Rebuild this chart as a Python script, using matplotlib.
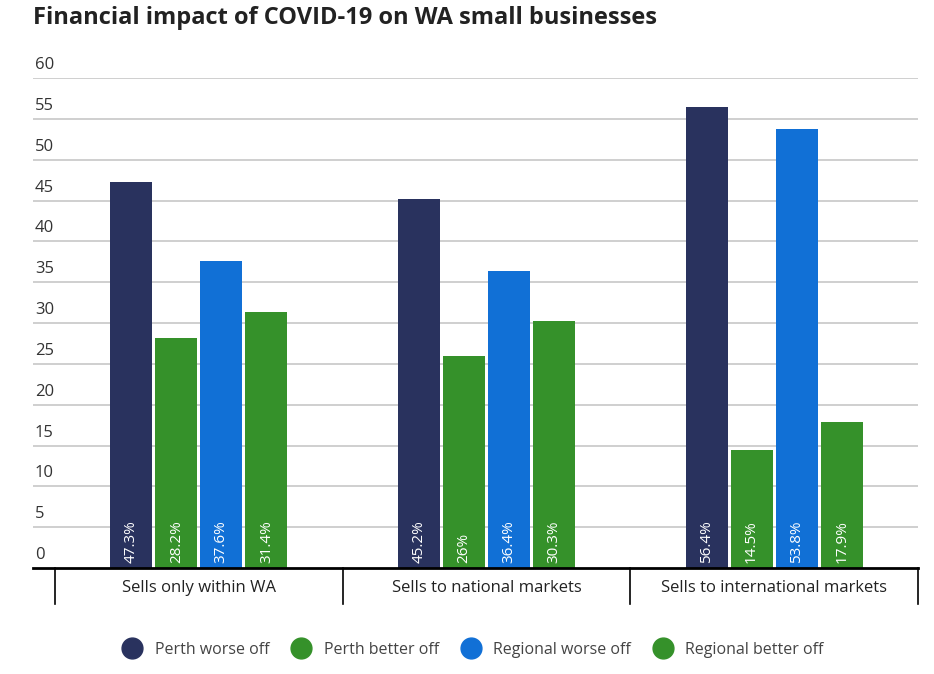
import numpy as np
import matplotlib.pyplot as plt
from matplotlib.lines import Line2D
from matplotlib.transforms import blended_transform_factory

categories = ["Sells only within WA", "Sells to national markets", "Sells to international markets"]
series = ["Perth worse off", "Perth better off", "Regional worse off", "Regional better off"]
perth_worse = [47.3, 45.2, 56.4]
perth_better = [28.2, 26, 14.5]
regional_worse = [37.6, 36.4, 53.8]
regional_better = [31.4, 30.3, 17.9]
labels = [["47.3%", "45.2%", "56.4%"],
          ["28.2%", "26%", "14.5%"],
          ["37.6%", "36.4%", "53.8%"],
          ["31.4%", "30.3%", "17.9%"]]
colors = ["#29325e", "#35912a", "#1170d6", "#35912a"]
yticks = [0, 5, 10, 15, 20, 25, 30, 35, 40, 45, 50, 55, 60]

plt.rcParams['font.family'] = ['Open Sans', 'DejaVu Sans']

fig = plt.figure(figsize=(9.34, 6.74), dpi=100)
ax = fig.add_axes([33/934, 1-568/674, (918-33)/934, (568-78)/674])

x = np.arange(len(categories))
step = 45/287.5
width = 42/287.5
for i, vals in enumerate([perth_worse, perth_better, regional_worse, regional_better]):
    pos = x + (i - 1.5) * step
    ax.bar(pos, vals, width=width, color=colors[i], zorder=3)
    for p, lab in zip(pos, labels[i]):
        ax.text(p, 0.6, lab, rotation=90, ha='center', va='bottom',
                color='white', fontsize=11, zorder=4)

ax.set_xlim(-0.5 - 22/287.5, 2.5)
ax.set_ylim(0, 60)
for t in yticks[1:]:
    ax.axhline(t, color='#cccccc', lw=1.3, zorder=1)
tr = blended_transform_factory(ax.transAxes, ax.transData)
for t in yticks:
    ax.text(0.002, t + 0.6, str(t), transform=tr, ha='left', va='bottom',
            fontsize=12, color='#333333')

for s in ax.spines.values():
    s.set_visible(False)
ax.set_xticks([])
ax.set_yticks([])
ax.axhline(0, color='black', lw=2, zorder=5, clip_on=False)

# category separators and labels below axis
trx = blended_transform_factory(ax.transData, ax.transAxes)
for b in [-0.5, 0.5, 1.5, 2.5]:
    ax.plot([b, b], [0, -36/490], color='black', lw=1.2, transform=trx, clip_on=False)
for xi, c in zip(x, categories):
    ax.text(xi, -20/490, c, transform=trx, ha='center', va='center',
            fontsize=12, color='#222222')

fig.text(33/934, 1-18/674, "Financial impact of COVID-19 on WA small businesses",
         fontsize=17, fontweight='bold', color='#222222', va='center', ha='left')

handles = [Line2D([], [], marker='o', ls='', markersize=15, color=c) for c in colors]
fig.legend(handles, series, loc='center', bbox_to_anchor=(470/934, 1-650/674), ncol=4,
           frameon=False, fontsize=11.5, handletextpad=0.4, columnspacing=1.0,
           labelcolor='#444444')

fig.savefig("out.png", dpi=100)
